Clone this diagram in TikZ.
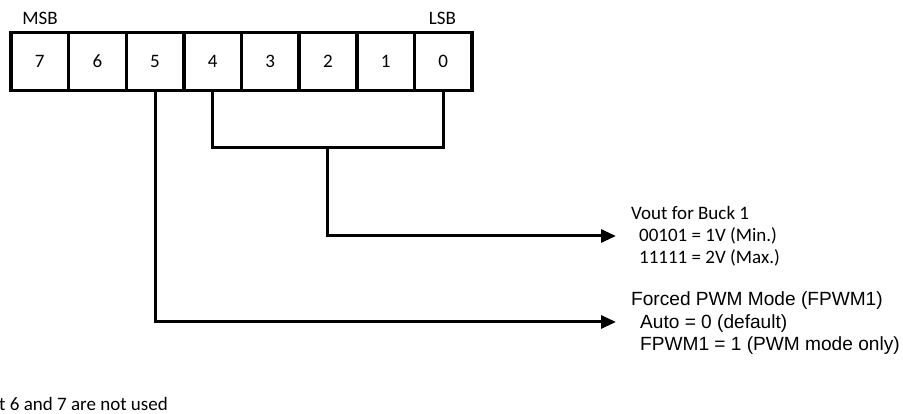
\documentclass[tikz,border=0pt]{standalone}
\usepackage{fontspec}
\setmainfont{Carlito}
\newfontfamily\arialfont{Liberation Sans}
\usetikzlibrary{arrows.meta}
\begin{document}
\begin{tikzpicture}[x=1pt,y=-1pt,
  bitbox/.style={draw,line width=3.5pt,minimum width=57.625pt,minimum height=58pt,inner sep=0pt,font=\fontsize{19}{22}\selectfont},
  lbl/.style={anchor=base west,inner sep=0pt,font=\fontsize{19}{22}\selectfont},
  albl/.style={anchor=base west,inner sep=0pt,font=\arialfont\fontsize{19.1}{22}\selectfont},
  conn/.style={line width=3pt},
  arr/.style={conn,-{Triangle[length=15pt,width=13pt]}}]
\useasboundingbox (0,0) rectangle (903,414);
\fill[white] (0,0) rectangle (903,414);
\foreach \b [count=\i from 0] in {7,6,5,4,3,2,1,0}{
  \node[bitbox] (b\b) at ({11+57.625*(\i+0.5)},61.5) {\b};
}
\node[anchor=base,inner sep=0pt,font=\fontsize{19}{22}\selectfont] (msb) at (40,25) {MSB};
\node[anchor=base,inner sep=0pt,font=\fontsize{19}{22}\selectfont] (lsb) at (442.5,25) {LSB};
\coordinate (j) at (327.9,148);
\coordinate (a1) at (616,236);
\coordinate (a2) at (616,322);
\draw[conn] (b4.south) |- (j) -| (b0.south);
\draw[arr] (j) |- (a1);
\draw[arr] (b5.south) |- (a2);
\node[lbl] (v1) at (631,220) {Vout for Buck 1};
\node[lbl] (v2) at (639,242) {00101 = 1V (Min.)};
\node[lbl] (v3) at (639,264) {11111 = 2V (Max.)};
\node[albl] (f1) at (631,306) {Forced PWM Mode (FPWM1)};
\node[albl] (f2) at (640,328) {Auto = 0 (default)};
\node[albl] (f3) at (640,350) {FPWM1 = 1 (PWM mode only)};
\node[lbl] (note) at (-1,410) {t 6 and 7 are not used};
\end{tikzpicture}
\end{document}
